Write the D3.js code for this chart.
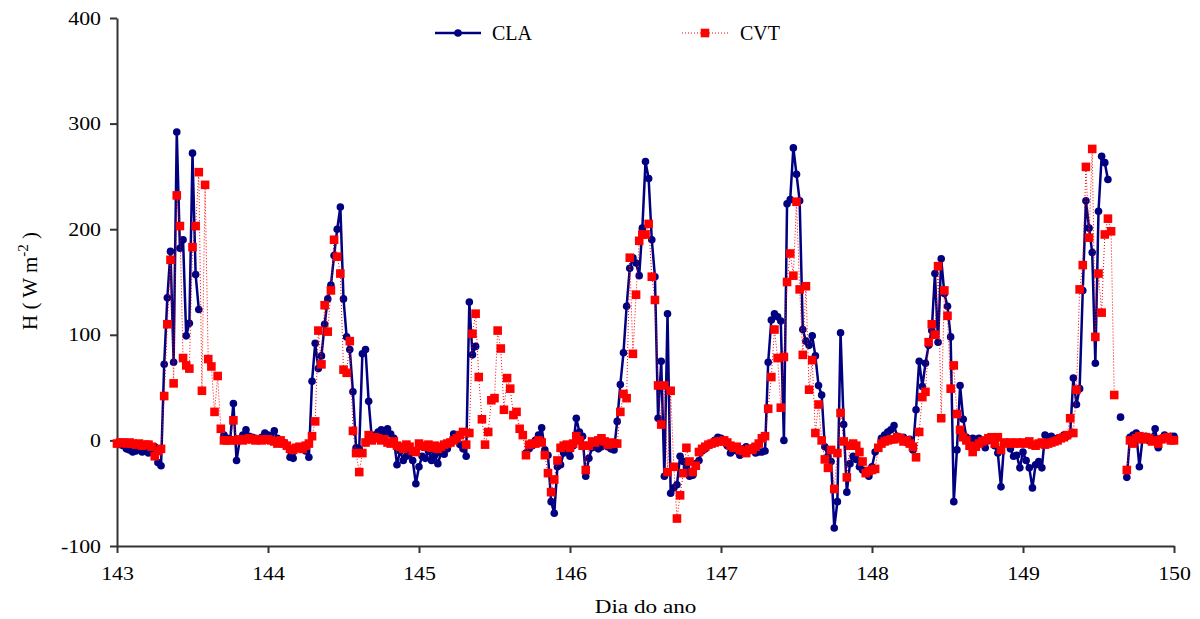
<!DOCTYPE html>
<html>
<head>
<meta charset="utf-8">
<script src="https://cdn.jsdelivr.net/npm/d3@7"></script>
<style>
  body { margin: 0; background: #fff; }
  svg text { font-family: "Liberation Serif", "Times New Roman", serif; fill: #000; }
</style>
</head>
<body>
<svg id="chart" width="1200" height="619"></svg>
<script>
// half-hourly values, 48 per day (day 149 carries the closing point at 150.0)
var seriesNames = ["CLA", "CVT"];
var xTicks = [143, 144, 145, 146, 147, 148, 149, 150];
var yTicks = [-100, 0, 100, 200, 300, 400];

var cla143 = [-3,-4,-5,-8,-9,-11,-10,-8,-11,-7,-12,-9,-6,-21,-24,72,135,179,74,292,182,190,99,111,272,157,124,
  null,null,null,null,null,null,null,5,2,1,35,-19,0,5,10,4,3,2,1,3,7];
var cla144 = [5,3,9,2,0,-2,-5,-16,-17,-8,-6,-7,-10,-16,56,92,68,80,110,134,147,175,200,221,134,98,86,46,-7,-8,82,86,37,
  2,5,8,10,8,11,6,2,-23,-10,-19,-15,-12,-19,-41];
var cla145 = [-25,-15,-17,-10,-19,-14,-22,-12,-13,-8,-2,6,2,-4,-8,-15,131,81,89,
  null,null,null,null,null,null,null,null,null,null,null,null,null,null,null,
  -12,-8,-5,0,5,12,-9,-14,-58,-69,-25,-23,-12,-8];
var cla146 = [-15,-5,21,8,4,-34,-17,-7,-5,-8,-6,-4,-6,-8,-9,18,53,83,127,163,173,168,156,201,264,248,190,155,
  21,75,-34,120,-50,-45,-42,-15,-20,-25,-34,-33,-22,-19,-10,-8,-5,-3,0,3];
var cla147 = [2,0,-5,-12,-8,-10,-14,-8,-6,-9,-7,-12,-11,-11,-10,74,114,120,117,113,0,224,228,277,252,227,105,94,90,99,80,52,43,
  -6,-15,-20,-83,-58,102,15,-49,-22,-15,-18,-25,-28,-30,-34];
var cla148 = [-25,-11,-7,2,5,8,10,14,4,2,3,-2,1,-9,29,75,51,73,90,104,158,93,172,139,127,98,-58,-9,52,20,
  3,0,2,1,2,-3,-7,0,2,-5,-12,-44,-3,-2,-8,-15,-14,-26];
var cla149 = [-11,-19,-26,-45,-23,-20,-26,5,3,4,1,2,3,5,4,6,59,34,49,142,227,201,178,73,217,269,263,247,
  null,null,null,22,null,-35,3,5,7,-25,2,4,0,3,11,-7,2,5,3,4,4];

var cvt143 = [-3,-2,-2,-3,-2,-3,-4,-3,-5,-4,-4,-6,-15,-10,-8,42,110,171,54,232,203,78,71,68,183,203,254,47,242,77,70,27,61,11,
  0,0,0,19,0,1,0,1,2,1,0,1,0,1];
var cvt144 = [1,0,-1,-3,0,-3,-5,-8,-9,-7,-6,-8,-5,-3,4,18,104,72,128,103,142,190,174,158,67,64,94,9,-12,-30,-12,
  -2,5,0,3,2,0,1,-2,-3,-1,-5,-6,-8,-4,-6,-10,-11];
var cvt145 = [-3,-5,-6,-4,-7,-5,-8,-6,-4,-3,-2,0,2,5,8,-4,7,101,120,60,20,-4,8,38,40,104,87,29,59,49,24,27,11,5,
  -14,-4,-3,-3,0,-2,-14,-31,-49,-37,-19,-7,-5,-4];
var cvt146 = [-7,-3,4,0,-5,-28,-5,-1,-2,0,2,-1,-4,-2,-3,-3,27,44,40,173,82,138,189,195,195,205,155,133,52,15,52,
  -30,47,-25,-74,-52,-31,-7,-20,-30,-24,-11,-8,-6,-4,-3,-2,-1];
var cvt147 = [-1,0,-2,-5,-7,-6,-9,-10,-12,-8,-9,-6,-3,2,4,30,60,105,78,31,79,150,177,156,226,143,81,146,48,76,7,34,0,
  -18,-26,-9,-46,-12,26,-1,-35,-5,-3,-5,-11,-20,-31,-29];
var cvt148 = [-28,-27,-7,-3,-1,0,1,1,3,2,-1,0,-3,-6,-16,8,41,46,93,110,100,165,21,142,118,49,71,25,10,3,
  0,-5,-11,-6,-3,-1,0,2,3,-3,3,-9,-2,-3,-2,-3,-2,-3];
var cvt149 = [-2,-3,-1,-4,-5,-3,-2,-4,-3,-2,-1,0,2,3,5,21,7,48,143,166,259,192,276,98,158,121,195,210,198,43,
  null,null,null,-28,0,-3,2,4,1,3,2,-1,0,-3,1,2,3,0,0];

var claValues = [].concat(cla143, cla144, cla145, cla146, cla147, cla148, cla149);
var cvtValues = [].concat(cvt143, cvt144, cvt145, cvt146, cvt147, cvt148, cvt149);

function toPoints(values) {
  return values.map(function(v, i) { return { t: 143 + i / 48, v: v }; });
}
var claData = toPoints(claValues);
var cvtData = toPoints(cvtValues);

var svg = d3.select("#chart");

var x = d3.scaleLinear().domain([143, 150]).range([117, 1174]);
var y = d3.scaleLinear().domain([-100, 400]).range([546, 18]);

// the exported chart has slightly widened lettering
function widen(sel, k) {
  sel.each(function() {
    var w = this.getComputedTextLength();
    d3.select(this).attr("textLength", w * k).attr("lengthAdjust", "spacingAndGlyphs");
  });
}

// axes
var yAxis = d3.axisLeft(y)
  .tickValues(yTicks)
  .tickSize(7)
  .tickSizeOuter(0)
  .tickPadding(9)
  .tickFormat(function(d) { return String(d); });

var xAxis = d3.axisBottom(x)
  .tickValues(xTicks)
  .tickSize(7)
  .tickSizeOuter(0)
  .tickPadding(14)
  .tickFormat(function(d) { return String(d); });

var gy = svg.append("g")
  .attr("class", "axis")
  .attr("transform", "translate(" + x(143) + ",0)")
  .call(yAxis);

var gx = svg.append("g")
  .attr("class", "axis")
  .attr("transform", "translate(0," + y(-100) + ")")
  .call(xAxis);

svg.selectAll(".axis path, .axis line")
  .attr("stroke", "#333")
  .attr("stroke-width", 2);
svg.selectAll(".axis text")
  .attr("font-family", "Liberation Serif, Times New Roman, serif")
  .attr("font-size", 19)
  .attr("fill", "#000")
  .call(widen, 1.15);

// axis titles
svg.append("text")
  .attr("x", x(146.5))
  .attr("y", 613)
  .attr("text-anchor", "middle")
  .attr("font-size", 19)
  .text("Dia do ano")
  .call(widen, 1.22);

var ylab = svg.append("text")
  .attr("transform", "translate(37,281) rotate(-90)")
  .attr("text-anchor", "middle")
  .attr("font-size", 21);
ylab.append("tspan").text("H ( W m");
ylab.append("tspan").attr("dy", -9).attr("font-size", 15).text("-2");
ylab.append("tspan").attr("dy", 9).text(" )");

// CLA series
var lineGen = d3.line()
  .defined(function(d) { return d.v !== null; })
  .x(function(d) { return x(d.t); })
  .y(function(d) { return y(d.v); });

svg.append("path")
  .datum(claData)
  .attr("fill", "none")
  .attr("stroke", "#000080")
  .attr("stroke-width", 2.5)
  .attr("stroke-linejoin", "round")
  .attr("d", lineGen);

svg.append("g")
  .selectAll("circle")
  .data(claData.filter(function(d) { return d.v !== null; }))
  .enter()
  .append("circle")
  .attr("cx", function(d) { return x(d.t); })
  .attr("cy", function(d) { return y(d.v); })
  .attr("r", 3.8)
  .attr("fill", "#000080");

// CVT series
svg.append("path")
  .datum(cvtData)
  .attr("fill", "none")
  .attr("stroke", "#ff0000")
  .attr("stroke-width", 1)
  .attr("stroke-dasharray", "1,2")
  .attr("d", lineGen);

var sq = 8.6;
svg.append("g")
  .selectAll("rect")
  .data(cvtData.filter(function(d) { return d.v !== null; }))
  .enter()
  .append("rect")
  .attr("x", function(d) { return x(d.t) - sq / 2; })
  .attr("y", function(d) { return y(d.v) - sq / 2; })
  .attr("width", sq)
  .attr("height", sq)
  .attr("fill", "#ff0000");

// legend
var legend = svg.append("g");
legend.append("line")
  .attr("x1", 435).attr("x2", 481).attr("y1", 33).attr("y2", 33)
  .attr("stroke", "#000080").attr("stroke-width", 2.5);
legend.append("circle").attr("cx", 458).attr("cy", 33).attr("r", 3.8).attr("fill", "#000080");
legend.append("text").attr("x", 492).attr("y", 40).attr("font-size", 20).text(seriesNames[0]);

legend.append("line")
  .attr("x1", 682).attr("x2", 728).attr("y1", 33).attr("y2", 33)
  .attr("stroke", "#ff0000").attr("stroke-width", 1).attr("stroke-dasharray", "1,2");
legend.append("rect").attr("x", 705 - sq / 2).attr("y", 33 - sq / 2).attr("width", sq).attr("height", sq).attr("fill", "#ff0000");
legend.append("text").attr("x", 740).attr("y", 40).attr("font-size", 20).text(seriesNames[1]);
</script>
</body>
</html>
